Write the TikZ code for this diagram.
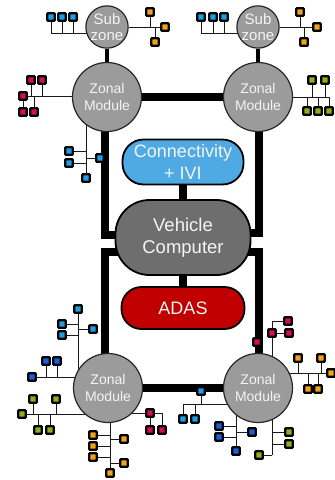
\documentclass[tikz,border=0pt]{standalone}
\usepackage{fontspec}
\setmainfont{Liberation Sans}
\pgfdeclarelayer{bg}
\pgfsetlayers{bg,main}
\definecolor{cyanD}{HTML}{1BA1E2}
\definecolor{blueD}{HTML}{1E5FE0}
\definecolor{orangeD}{HTML}{F5A11C}
\definecolor{redD}{HTML}{D6104E}
\definecolor{greenD}{HTML}{8DB01F}
\definecolor{connF}{HTML}{4FA9E2}
\definecolor{adasF}{HTML}{C00000}
\definecolor{vcF}{HTML}{6E6E6E}
\definecolor{zmF}{HTML}{9B9B9B}
\definecolor{txtW}{HTML}{F4F4F4}
\tikzset{
  dev/.style={draw=black, line width=2.2pt, fill=#1, minimum size=7.4pt, inner sep=0pt, rounded corners=0.6pt},
  zone/.style={circle, draw=black!85, line width=1.2pt, fill=zmF, text=txtW, minimum size=69pt, inner sep=0pt, align=center, font=\fontsize{14}{17}\selectfont},
  subz/.style={circle, draw=black!85, line width=1.2pt, fill=zmF, text=txtW, minimum size=40pt, inner sep=0pt, align=center, font=\fontsize{15}{16}\selectfont},
  pill/.style={rectangle, draw=black, line width=1.8pt, text=txtW, align=center, inner sep=0pt},
  mainln/.style={line width=8pt},
  subln/.style={line width=4.5pt},
  tl/.style={line width=1pt, black!90}
}
\begin{document}
\begin{tikzpicture}[x=1pt, y=-1pt]
\useasboundingbox (0,0) rectangle (335,480);
% main nodes
\node[subz] (szL) at (107,27) {Sub\\zone};
\node[subz] (szR) at (258,27) {Sub\\zone};
\node[zone] (zmTL) at (107,97) {Zonal\\Module};
\node[zone] (zmTR) at (258,97) {Zonal\\Module};
\node[zone] (zmBL) at (108,388) {Zonal\\Module};
\node[zone] (zmBR) at (258,388) {Zonal\\Module};
\node[pill, fill=connF, minimum width=121pt, minimum height=45pt, rounded corners=21pt, font=\fontsize{18}{22}\selectfont] (conn) at (183,162) {Connectivity\\+ IVI};
\node[pill, fill=vcF, minimum width=135pt, minimum height=75pt, rounded corners=34pt, font=\fontsize{18.5}{22}\selectfont] (vc) at (183,237.5) {Vehicle\\Computer};
\node[pill, fill=adasF, minimum width=123pt, minimum height=42pt, rounded corners=20pt, font=\fontsize{18}{22}\selectfont] (adas) at (183,308) {ADAS};
% junctions of the thick lines
\coordinate (tlT) at (105,97);
\coordinate (jTL) at (105,235);
\coordinate (jBL) at (105,252);
\coordinate (tlB) at (105,388);
\coordinate (trT) at (259,97);
\coordinate (jTR) at (259,233);
\coordinate (jBR) at (259,252);
\coordinate (trB) at (259,388);
% devices
\node[dev=cyanD] (a1) at (51,17) {};
\node[dev=cyanD] (a2) at (62,17) {};
\node[dev=cyanD] (a3) at (73,17) {};
\coordinate (aJ) at (51,33);
\node[dev=orangeD] (b1) at (150,12) {};
\node[dev=orangeD] (b2) at (165,27) {};
\node[dev=orangeD] (b3) at (155,42) {};
\node[dev=cyanD] (c1) at (201,17) {};
\node[dev=cyanD] (c2) at (213,17) {};
\node[dev=cyanD] (c3) at (224,17) {};
\coordinate (cJ) at (201,33);
\node[dev=orangeD] (d1) at (300,12) {};
\node[dev=orangeD] (d2) at (317,27) {};
\node[dev=orangeD] (d3) at (304,42) {};
\node[dev=redD] (e1) at (31,80) {};
\node[dev=redD] (e2) at (42,80) {};
\node[dev=redD] (e3) at (23,96) {};
\node[dev=redD] (e4) at (23,112) {};
\node[dev=redD] (e5) at (34,112) {};
\node[dev=cyanD] (f1) at (69,151) {};
\node[dev=cyanD] (f2) at (69,163) {};
\node[dev=cyanD] (f3) at (100,158) {};
\node[dev=cyanD] (f4) at (86,178) {};
\node[dev=greenD] (g1) at (312,80) {};
\node[dev=greenD] (g2) at (325,80) {};
\node[dev=greenD] (g3) at (307,111) {};
\node[dev=greenD] (g4) at (318,111) {};
\node[dev=greenD] (g5) at (329,111) {};
\node[dev=cyanD] (h1) at (78,309) {};
\node[dev=cyanD] (h2) at (62,324) {};
\node[dev=cyanD] (h3) at (93,329) {};
\node[dev=cyanD] (h4) at (62,335) {};
\node[dev=blueD] (i1) at (46,361) {};
\node[dev=blueD] (i2) at (57,361) {};
\node[dev=blueD] (i3) at (32,377) {};
\node[dev=greenD] (j1) at (33,399) {};
\node[dev=greenD] (j2) at (56,399) {};
\node[dev=greenD] (j3) at (22,414) {};
\node[dev=greenD] (j4) at (38,430) {};
\node[dev=greenD] (j5) at (50,430) {};
\node[dev=redD] (k1) at (150,413) {};
\node[dev=redD] (k2) at (150,430) {};
\node[dev=redD] (k3) at (162,430) {};
\node[dev=orangeD] (l1) at (93,435) {};
\node[dev=orangeD] (l2) at (93,446) {};
\node[dev=orangeD] (l3) at (93,457) {};
\node[dev=orangeD] (l4) at (124,439) {};
\node[dev=orangeD] (l5) at (124,463) {};
\node[dev=orangeD] (l6) at (110,473) {};
\node[dev=cyanD] (m1) at (201,391) {};
\node[dev=cyanD] (m2) at (183,419) {};
\node[dev=cyanD] (m3) at (195,419) {};
\coordinate (mJ) at (201,404);
\node[dev=blueD] (n1) at (219,426) {};
\node[dev=blueD] (n2) at (219,437) {};
\node[dev=blueD] (n3) at (252,432) {};
\node[dev=blueD] (n4) at (236,451) {};
\node[dev=greenD] (o1) at (289,432) {};
\node[dev=greenD] (o2) at (289,444) {};
\node[dev=greenD] (o3) at (259,455) {};
\coordinate (oJ) at (272,455);
\node[dev=orangeD] (p1) at (298,358) {};
\node[dev=orangeD] (p2) at (321,358) {};
\node[dev=orangeD] (p3) at (331,373) {};
\node[dev=orangeD] (p4) at (308,389) {};
\node[dev=orangeD] (p5) at (318,389) {};
\node[dev=redD] (q1) at (257,342) {};
\node[dev=redD] (q2) at (272,333) {};
\node[dev=redD] (q3) at (289,333) {};
\node[dev=redD] (q4) at (288,321) {};
\coordinate (qJ) at (272,321);
\begin{pgfonlayer}{bg}
% thick backbone
\draw[mainln] (zmTL) -- (zmTR);
\draw[mainln] (zmBL) -- (zmBR);
\draw[mainln] (tlT) -- (jTL) -- (vc.center |- jTL);
\draw[mainln] (tlB) -- (jBL) -- (vc.center |- jBL);
\draw[mainln] (trT) -- (jTR) -- (vc.center |- jTR);
\draw[mainln] (trB) -- (jBR) -- (vc.center |- jBR);
\draw[mainln] (conn) -- (vc);
\draw[mainln] (vc) -- (adas);
\draw[subln] (szL) -- (zmTL);
\draw[subln] (szR) -- (zmTR);
% A
\draw[tl] (a1) -- (aJ) -- (aJ -| szL);
\draw[tl] (a2) -- (a2 |- aJ);
\draw[tl] (a3) -- (a3 |- aJ);
% B
\draw[tl] (szL) -- (b2);
\draw[tl] (b1) -- (b1 |- b2);
\draw[tl] (b3) -- (b3 |- b2);
% C
\draw[tl] (c1) -- (cJ) -- (cJ -| szR);
\draw[tl] (c2) -- (c2 |- cJ);
\draw[tl] (c3) -- (c3 |- cJ);
% D
\draw[tl] (szR) -- (d2);
\draw[tl] (d1) -- (d1 |- d2);
\draw[tl] (d3) -- (d3 |- d2);
% E
\draw[tl] (e3) -- (e3 -| zmTL);
\draw[tl] (e1) -- (e1 |- e3);
\draw[tl] (e2) -- (e2 |- e3);
\draw[tl] (e3) -- (e4);
\draw[tl] (e5) -- (e5 |- e3);
% F
\draw[tl] (f4) -- (f4 |- zmTL);
\draw[tl] (f1) -- (f1 -| f4);
\draw[tl] (f2) -- (f2 -| f4);
\draw[tl] (f3) -- (f3 -| f4);
% G
\draw[tl] (zmTR) -- (zmTR -| g5);
\draw[tl] (g1) -- (g1 |- zmTR);
\draw[tl] (g2) -- (g2 |- zmTR);
\draw[tl] (g3) -- (g3 |- zmTR);
\draw[tl] (g4) -- (g4 |- zmTR);
\draw[tl] (g5) -- (g5 |- zmTR);
% H
\draw[tl] (h1) -- (h1 |- zmBL);
\draw[tl] (h2) -- (h2 -| h1);
\draw[tl] (h3) -- (h3 -| h1);
\draw[tl] (h4) -- (h4 -| h1);
% I
\draw[tl] (i3) -- (i3 -| zmBL);
\draw[tl] (i1) -- (i1 |- i3);
\draw[tl] (i2) -- (i2 |- i3);
% J
\draw[tl] (j3) -- (j3 -| zmBL);
\draw[tl] (j1) -- (j1 |- j3);
\draw[tl] (j2) -- (j2 |- j3);
\draw[tl] (j4) -- (j4 |- j3);
\draw[tl] (j5) -- (j5 |- j3);
% K
\draw[tl] (k1) -- (k1 -| zmBL);
\draw[tl] (k1) -- (k2);
\draw[tl] (k1) -- (k1 -| k3) -- (k3);
% L
\draw[tl] (l6) -- (l6 |- zmBL);
\draw[tl] (l1) -- (l1 -| l6);
\draw[tl] (l2) -- (l2 -| l6);
\draw[tl] (l3) -- (l3 -| l6);
\draw[tl] (l4) -- (l4 -| l6);
\draw[tl] (l5) -- (l5 -| l6);
% M
\draw[tl] (m1) -- (mJ);
\draw[tl] (m2 |- mJ) -- (mJ -| zmBR);
\draw[tl] (m2) -- (m2 |- mJ);
\draw[tl] (m3) -- (m3 |- mJ);
% N
\draw[tl] (n4) -- (n4 |- zmBR);
\draw[tl] (n1) -- (n1 -| n4);
\draw[tl] (n2) -- (n2 -| n4);
\draw[tl] (n3) -- (n3 -| n4);
% O
\draw[tl] (oJ) -- (oJ |- zmBR);
\draw[tl] (o3) -- (oJ);
\draw[tl] (o1) -- (o1 -| oJ);
\draw[tl] (o2) -- (o2 -| oJ);
% P
\draw[tl] (p3) -- (p3 -| zmBR);
\draw[tl] (p1) -- (p1 |- p3);
\draw[tl] (p2) -- (p2 |- p3);
\draw[tl] (p4) -- (p4 |- p3);
\draw[tl] (p5) -- (p5 |- p3);
% Q
\draw[tl] (qJ) -- (qJ |- zmBR);
\draw[tl] (qJ) -- (q4);
\draw[tl] (q2) -- (q3);
\end{pgfonlayer}
\end{tikzpicture}
\end{document}
